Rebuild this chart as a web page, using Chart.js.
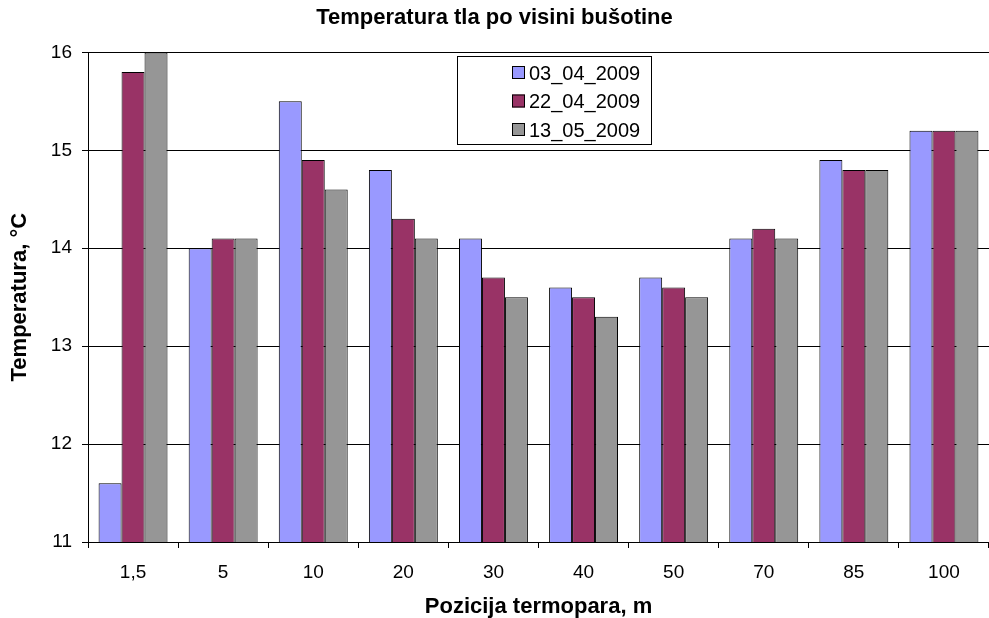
<!DOCTYPE html>
<html>
<head>
<meta charset="utf-8">
<script src="https://cdn.jsdelivr.net/npm/chart.js@4"></script>
<style>
  html, body { margin: 0; padding: 0; background: #fff; }
  #wrap { width: 989px; height: 618px; }
</style>
</head>
<body>
<div id="wrap"><canvas id="grafik"></canvas></div>
<script>
var kategorije = ['1,5', '5', '10', '20', '30', '40', '50', '70', '85', '100'];
var nazivi = ['03_04_2009', '22_04_2009', '13_05_2009'];
var mjerenje1 = [11.6, 14.0, 15.5, 14.8, 14.1, 13.6, 13.7, 14.1, 14.9, 15.2];
var mjerenje2 = [15.8, 14.1, 14.9, 14.3, 13.7, 13.5, 13.6, 14.2, 14.8, 15.2];
var mjerenje3 = [16.0, 14.1, 14.6, 14.1, 13.5, 13.3, 13.5, 14.1, 14.8, 15.2];
var boje = ['#9999FF', '#993366', '#969696'];

var font = "'Liberation Sans', Arial, sans-serif";

// legenda u okviru, kao u Excelu
var legendaPlugin = {
    id: 'legendaOkvir',
    afterDraw: function (chart) {
        var ctx = chart.ctx;
        ctx.save();
        ctx.strokeStyle = '#000';
        ctx.lineWidth = 1;
        ctx.strokeRect(457.5, 56.5, 194, 88);
        ctx.font = '20px ' + font;
        ctx.textBaseline = 'middle';
        chart.data.datasets.forEach(function (ds, i) {
            var y = 73 + i * 28.5;
            ctx.fillStyle = ds.backgroundColor;
            ctx.fillRect(512, y - 7, 13, 13);
            ctx.strokeRect(512.5, y - 6.5, 12, 12);
            ctx.fillStyle = '#000';
            ctx.fillText(ds.label, 529, y + 1);
        });
        ctx.restore();
    }
};

var ctx = document.getElementById('grafik').getContext('2d');
new Chart(ctx, {
    type: 'bar',
    data: {
        labels: kategorije,
        datasets: [
            { label: nazivi[0], data: mjerenje1, backgroundColor: boje[0] },
            { label: nazivi[1], data: mjerenje2, backgroundColor: boje[1] },
            { label: nazivi[2], data: mjerenje3, backgroundColor: boje[2] }
        ]
    },
    options: {
        responsive: true,
        maintainAspectRatio: false,
        animation: false,
        devicePixelRatio: 1,
        layout: { padding: { left: 0, right: 0, top: 0, bottom: 0 } },
        datasets: {
            bar: {
                borderColor: '#000',
                borderWidth: 1,
                barPercentage: 1,
                categoryPercentage: 0.765
            }
        },
        scales: {
            x: {
                offset: true,
                afterFit: function (scale) { scale.height = 76; },
                grid: {
                    offset: true,
                    drawOnChartArea: false,
                    drawTicks: true,
                    tickLength: 6,
                    color: '#000'
                },
                border: { color: '#000', width: 1 },
                ticks: {
                    color: '#000',
                    font: { family: font, size: 19 },
                    padding: 13,
                    maxRotation: 0
                },
                title: {
                    display: true,
                    text: 'Pozicija termopara, m',
                    color: '#000',
                    font: { family: font, size: 22, weight: 'bold', lineHeight: 1 },
                    padding: { top: 5, bottom: 0 }
                }
            },
            y: {
                min: 11,
                max: 16,
                afterFit: function (scale) { scale.width = 88; },
                grid: {
                    color: '#000',
                    tickLength: 6
                },
                border: { color: '#000', width: 1 },
                ticks: {
                    stepSize: 1,
                    color: '#000',
                    font: { family: font, size: 19 },
                    padding: 10
                },
                title: {
                    display: true,
                    text: 'Temperatura, °C',
                    color: '#000',
                    font: { family: font, size: 22, weight: 'bold' },
                    padding: { top: 7, bottom: 0 }
                }
            }
        },
        plugins: {
            legend: { display: false },
            tooltip: { enabled: false },
            title: {
                display: true,
                text: 'Temperatura tla po visini bušotine',
                color: '#000',
                font: { family: font, size: 22, weight: 'bold' },
                padding: { top: 5, bottom: 21 }
            }
        }
    },
    plugins: [legendaPlugin]
});
</script>
</body>
</html>
